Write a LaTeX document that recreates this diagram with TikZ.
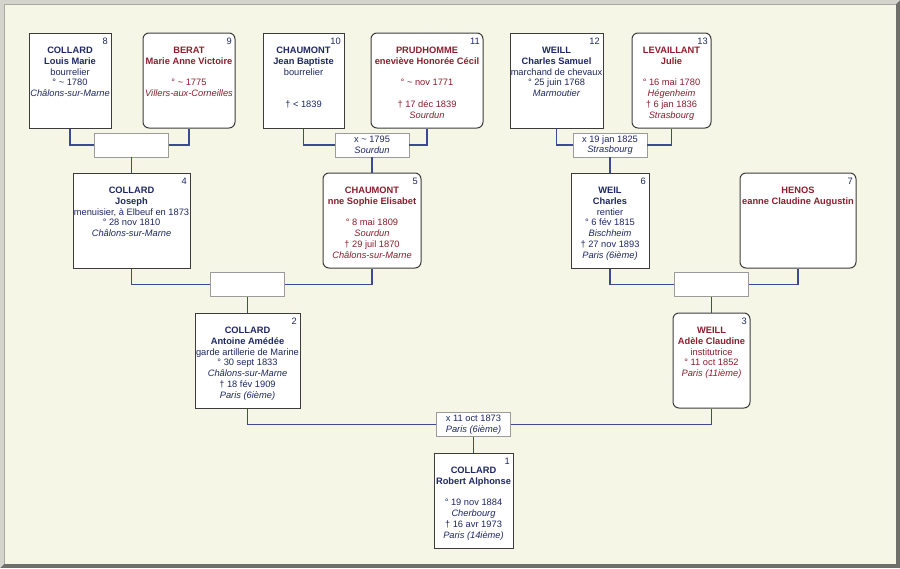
\documentclass[tikz,border=0pt]{standalone}
\usepackage{fontspec}
\setmainfont{Liberation Sans}
\definecolor{paper}{RGB}{246,246,231}
\definecolor{mancol}{RGB}{30,40,100}
\definecolor{womcol}{RGB}{140,30,45}
\definecolor{boxline}{RGB}{60,60,60}
\definecolor{linkcol}{RGB}{60,75,145}
\definecolor{wedline}{RGB}{155,155,155}
\definecolor{framelight}{RGB}{212,212,204}
\definecolor{framedark}{RGB}{110,110,106}
\begin{document}
\begin{tikzpicture}[
    x=1pt, y=-1pt,
    font=\fontsize{9.3}{10.75}\selectfont,
    man/.style={draw=boxline, fill=white, line width=1pt, minimum height=95pt, inner sep=0pt},
    woman/.style={man, rounded corners=6pt},
    mtext/.style={anchor=north, align=center, inner sep=0pt, text=mancol, yshift=-14.5pt},
    wtext/.style={mtext, text=womcol},
    num/.style={anchor=north east, inner sep=0pt, text=mancol, xshift=-3.5pt, yshift=-5pt},
    wedding/.style={draw=wedline, fill=white, line width=0.8pt, minimum width=74pt, minimum height=24pt, inner sep=0pt, align=center, text=mancol},
    famline/.style={draw=linkcol, line width=1.1pt}
]
% frame and paper
\useasboundingbox (0,0) rectangle (900,568);
\fill[framedark] (0,0) rectangle (900,568);
\fill[framelight] (0,568) -- (0,0) -- (900,0) -- (896,4) -- (4,4) -- (4,564) -- cycle;
\fill[paper] (4,4) rectangle (896,564);
\draw[framedark!60, line width=1pt] (4.5,563.5) -- (4.5,4.5) -- (895.5,4.5);

% generation 4
\node[man, minimum width=82pt] (p8) at (70,80.5) {};
\node[mtext] (t8) at (p8.north) {\textbf{COLLARD}\\\textbf{Louis Marie}\\bourrelier\\° \textasciitilde{} 1780\\\textit{Châlons-sur-Marne}};
\node[num] (n8) at (p8.north east) {8};

\node[woman, minimum width=92pt] (p9) at (189,80.5) {};
\node[wtext] (t9) at (p9.north) {\textbf{BERAT}\\\textbf{Marie Anne Victoire}\\\mbox{}\\° \textasciitilde{} 1775\\\textit{Villers-aux-Corneilles}};
\node[num] (n9) at (p9.north east) {9};

\node[man, minimum width=81pt] (p10) at (303.5,80.5) {};
\node[mtext] (t10) at (p10.north) {\textbf{CHAUMONT}\\\textbf{Jean Baptiste}\\bourrelier\\\mbox{}\\\mbox{}\\† < 1839};
\node[num] (n10) at (p10.north east) {10};

\node[woman, minimum width=112pt] (p11) at (427,80.5) {};
\node[wtext] (t11) at (p11.north) {\textbf{PRUDHOMME}\\\textbf{eneviève Honorée Cécil}\\\mbox{}\\° \textasciitilde{} nov 1771\\\mbox{}\\† 17 déc 1839\\\textit{Sourdun}};
\node[num] (n11) at (p11.north east) {11};

\node[man, minimum width=93pt] (p12) at (556.5,80.5) {};
\node[mtext] (t12) at (p12.north) {\textbf{WEILL}\\\textbf{Charles Samuel}\\marchand de chevaux\\° 25 juin 1768\\\textit{Marmoutier}};
\node[num] (n12) at (p12.north east) {12};

\node[woman, minimum width=79pt] (p13) at (671.5,80.5) {};
\node[wtext] (t13) at (p13.north) {\textbf{LEVAILLANT}\\\textbf{Julie}\\\mbox{}\\° 16 mai 1780\\\textit{Hégenheim}\\† 6 jan 1836\\\textit{Strasbourg}};
\node[num] (n13) at (p13.north east) {13};

% generation 3
\node[man, minimum width=117pt] (p4) at (131.5,220.5) {};
\node[mtext] (t4) at (p4.north) {\textbf{COLLARD}\\\textbf{Joseph}\\menuisier, à Elbeuf en 1873\\° 28 nov 1810\\\textit{Châlons-sur-Marne}};
\node[num] (n4) at (p4.north east) {4};

\node[woman, minimum width=98pt] (p5) at (372,220.5) {};
\node[wtext] (t5) at (p5.north) {\textbf{CHAUMONT}\\\textbf{nne Sophie Elisabet}\\\mbox{}\\° 8 mai 1809\\\textit{Sourdun}\\† 29 juil 1870\\\textit{Châlons-sur-Marne}};
\node[num] (n5) at (p5.north east) {5};

\node[man, minimum width=78pt] (p6) at (610,220.5) {};
\node[mtext] (t6) at (p6.north) {\textbf{WEIL}\\\textbf{Charles}\\rentier\\° 6 fév 1815\\\textit{Bischheim}\\† 27 nov 1893\\\textit{Paris (6ième)}};
\node[num] (n6) at (p6.north east) {6};

\node[woman, minimum width=116pt] (p7) at (798,220.5) {};
\node[wtext] (t7) at (p7.north) {\textbf{HENOS}\\\textbf{eanne Claudine Augustin}};
\node[num] (n7) at (p7.north east) {7};

% generation 2
\node[man, minimum width=105pt] (p2) at (247.5,360.5) {};
\node[mtext] (t2) at (p2.north) {\textbf{COLLARD}\\\textbf{Antoine Amédée}\\garde artillerie de Marine\\° 30 sept 1833\\\textit{Châlons-sur-Marne}\\† 18 fév 1909\\\textit{Paris (6ième)}};
\node[num] (n2) at (p2.north east) {2};

\node[woman, minimum width=77pt] (p3) at (711.5,360.5) {};
\node[wtext] (t3) at (p3.north) {\textbf{WEILL}\\\textbf{Adèle Claudine}\\institutrice\\° 11 oct 1852\\\textit{Paris (11ième)}};
\node[num] (n3) at (p3.north east) {3};

% generation 1
\node[man, minimum width=79pt] (p1) at (473.5,500.5) {};
\node[mtext] (t1) at (p1.north) {\textbf{COLLARD}\\\textbf{Robert Alphonse}\\\mbox{}\\° 19 nov 1884\\\textit{Cherbourg}\\† 16 avr 1973\\\textit{Paris (14ième)}};
\node[num] (n1) at (p1.north east) {1};

% marriages
\node[wedding] (m89) at (131.5,145) {};
\node[wedding] (m1011) at (372,145) {x \textasciitilde{} 1795\\\textit{Sourdun}};
\node[wedding] (m1213) at (610,145) {x 19 jan 1825\\\textit{Strasbourg}};
\node[wedding] (m45) at (247.5,284.5) {};
\node[wedding] (m67) at (711.5,284.5) {};
\node[wedding] (m23) at (473.5,424.5) {x 11 oct 1873\\\textit{Paris (6ième)}};

% links
\draw[famline] (p8.south) |- (m89.west);
\draw[famline] (p9.south) |- (m89.east);
\draw[famline] (m89.south) -- (p4.north);
\draw[famline] (p10.south) |- (m1011.west);
\draw[famline] (p11.south) |- (m1011.east);
\draw[famline] (m1011.south) -- (p5.north);
\draw[famline] (p12.south) |- (m1213.west);
\draw[famline] (p13.south) |- (m1213.east);
\draw[famline] (m1213.south) -- (p6.north);
\draw[famline] (p4.south) |- (m45.west);
\draw[famline] (p5.south) |- (m45.east);
\draw[famline] (m45.south) -- (p2.north);
\draw[famline] (p6.south) |- (m67.west);
\draw[famline] (p7.south) |- (m67.east);
\draw[famline] (m67.south) -- (p3.north);
\draw[famline] (p2.south) |- (m23.west);
\draw[famline] (p3.south) |- (m23.east);
\draw[famline] (m23.south) -- (p1.north);
\end{tikzpicture}
\end{document}
